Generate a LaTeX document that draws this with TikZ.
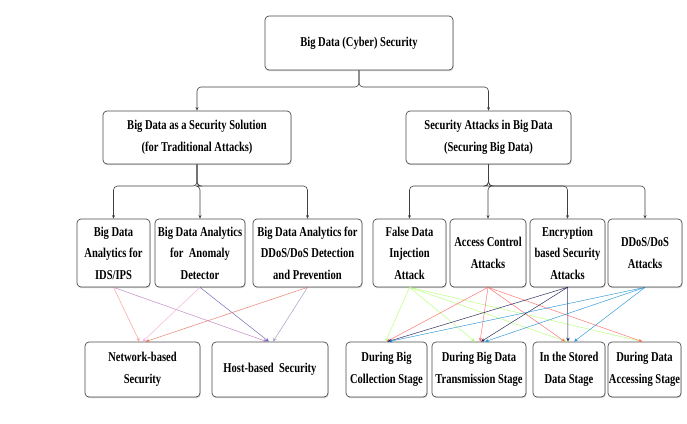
\documentclass[tikz,border=0pt]{standalone}
\usepackage{fontspec}
\setmainfont{Liberation Serif}[FakeStretch=0.78]
\usetikzlibrary{arrows.meta,shadows}
\begin{document}
\begin{tikzpicture}[x=1pt,y=-1pt,
  box/.style={draw=black!70, line width=0.7pt, rounded corners=4pt, fill=white,
    align=center, inner sep=1pt,
    font=\bfseries\fontsize{13.5}{21.5}\selectfont,
    drop shadow={shadow xshift=0.6pt, shadow yshift=-1.2pt, opacity=0.35}},
  bus/.style={draw=black!75, line width=0.6pt, rounded corners=4pt,
    -{Stealth[length=3.5pt,width=3pt]}},
  cn/.style={line width=0.5pt, opacity=0.7, -{Stealth[length=4pt,width=3.5pt]}}
]
\useasboundingbox (0,0) rectangle (687,423);
\fill[white] (0,0) rectangle (687,423);

% level 1
\node[box, minimum width=188pt, minimum height=54pt] (top) at (359,43) {Big Data (Cyber) Security};

% level 2
\node[box, minimum width=188pt, minimum height=53pt] (sol) at (197,137.5) {Big Data as a Security Solution\\(for Traditional Attacks)};
\node[box, minimum width=165pt, minimum height=53pt] (att) at (488.5,137.5) {Security Attacks in Big Data\\(Securing Big Data)};

% level 3
\node[box, minimum width=73pt, minimum height=68pt] (ids) at (113.5,253) {Big Data\\Analytics for\\IDS/IPS};
\node[box, minimum width=90pt, minimum height=68pt] (ano) at (200,253) {Big Data Analytics\\for\ \ Anomaly\\Detector};
\node[box, minimum width=109pt, minimum height=68pt] (ddp) at (307.5,253) {Big Data Analytics for\\DDoS/DoS Detection\\and Prevention};
\node[box, minimum width=73pt, minimum height=68pt] (fdi) at (409.5,253) {False Data\\Injection\\Attack};
\node[box, minimum width=76pt, minimum height=68pt] (acc) at (488,253) {Access Control\\Attacks};
\node[box, minimum width=75pt, minimum height=68pt] (enc) at (567.5,253) {Encryption\\based Security\\Attacks};
\node[box, minimum width=74pt, minimum height=68pt] (dos) at (645,253) {DDoS/DoS\\Attacks};

% level 4
\node[box, minimum width=115pt, minimum height=55pt] (net) at (142.5,369.5) {Network-based\\Security};
\node[box, minimum width=116pt, minimum height=55pt] (host) at (270,369.5) {Host-based\ \ Security};
\node[box, minimum width=81pt, minimum height=55pt] (col) at (386.5,369.5) {During Big\\Collection Stage};
\node[box, minimum width=94pt, minimum height=55pt] (tra) at (479,369.5) {During Big Data\\Transmission Stage};
\node[box, minimum width=72pt, minimum height=55pt] (sto) at (569,369.5) {In the Stored\\Data Stage};
\node[box, minimum width=71pt, minimum height=55pt] (acs) at (644.5,369.5) {During Data\\Accessing Stage};

% buses
\coordinate (b1) at (0,87);
\coordinate (b2) at (0,186);
\draw[bus] (top.south) -- (top.south |- b1) -| (sol.north);
\draw[bus] (top.south) -- (top.south |- b1) -| (att.north);
\foreach \t in {ids,ano,ddp}
  \draw[bus] (sol.south) -- (sol.south |- b2) -| (\t.north);
\foreach \t in {fdi,acc,enc,dos}
  \draw[bus] (att.south) -- (att.south |- b2) -| (\t.north);

% left cross connectors
\draw[cn, draw=red!45, fill=red!45] (ids.south) -- ([xshift=-3pt]net.north);
\draw[cn, draw=violet!55, fill=violet!55] (ids.south) -- ([xshift=-3pt]host.north);
\draw[cn, draw=magenta!35, fill=magenta!35] (ano.south) -- (net.north);
\draw[cn, draw=blue!35!gray, fill=blue!35!gray] (ano.south) -- ([xshift=-1pt]host.north);
\draw[cn, draw=red!50!brown!80, fill=red!50!brown!80] (ddp.south) -- ([xshift=3pt]net.north);
\draw[cn, draw=blue!25!gray!70, fill=blue!25!gray!70] (ddp.south) -- ([xshift=3pt]host.north);

% right cross connectors
\foreach \t/\dx in {col/-1,tra/-4,sto/-2,acs/-2}
  \draw[cn, draw=lime!60!green!60, fill=lime!60!green!60] (fdi.south) -- ([xshift=\dx pt]\t.north);
\foreach \t/\dx in {col/0,tra/1,sto/-4,acs/-2}
  \draw[cn, draw=red!65, fill=red!65] (acc.south) -- ([xshift=\dx pt]\t.north);
\foreach \t/\dx in {col/1,tra/2,sto/-1}
  \draw[cn, draw=black!75!blue, fill=black!75!blue] (enc.south) -- ([xshift=\dx pt]\t.north);
\foreach \t/\dx in {col/2,tra/6,sto/5}
  \draw[cn, draw=cyan!70!blue, fill=cyan!70!blue] (dos.south) -- ([xshift=\dx pt]\t.north);
\end{tikzpicture}
\end{document}
